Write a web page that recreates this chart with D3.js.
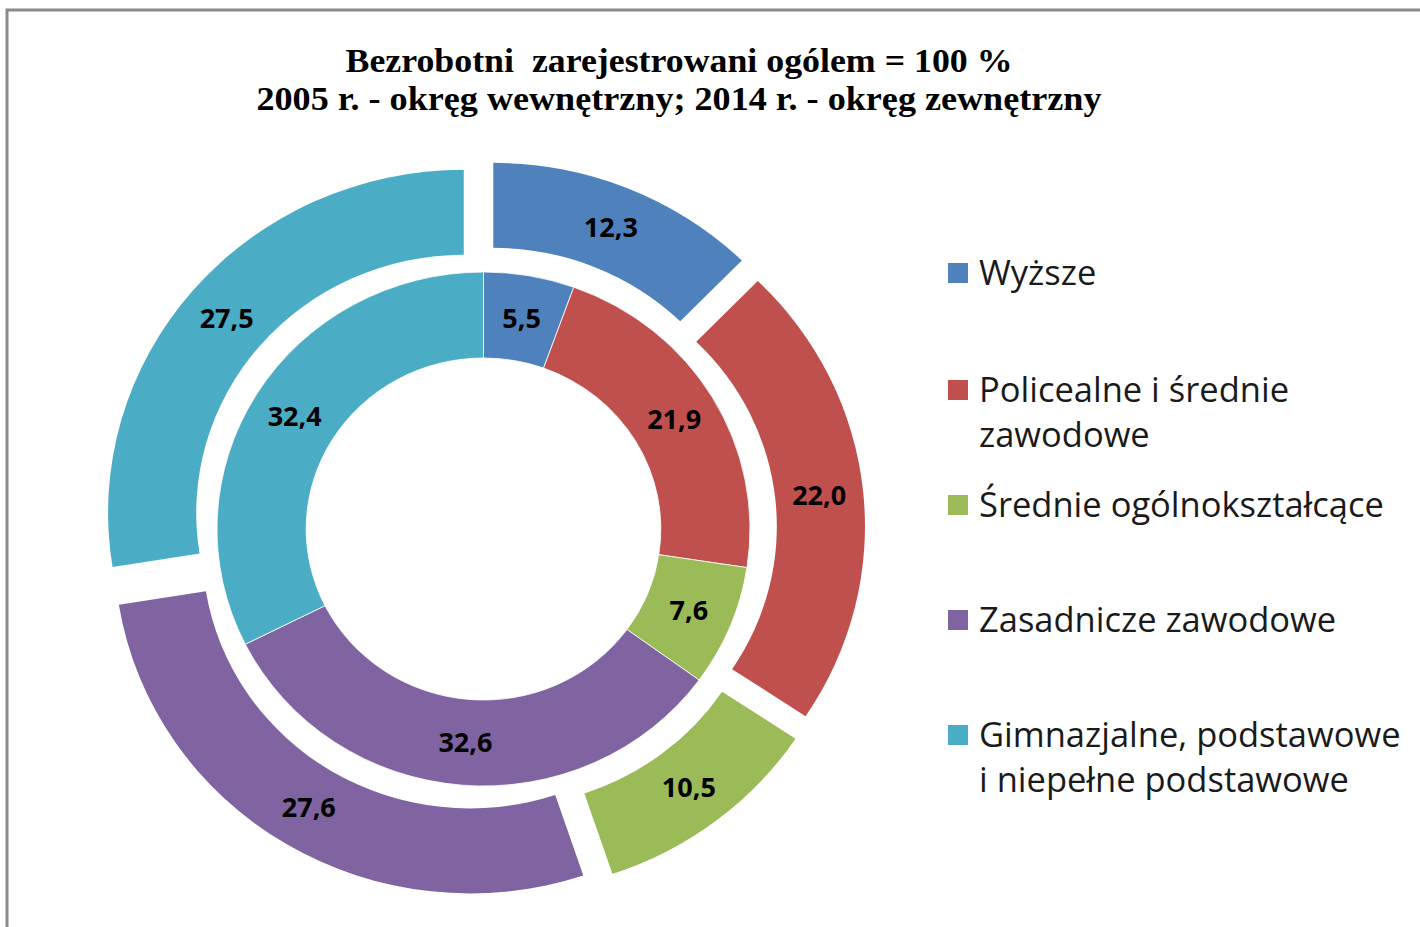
<!DOCTYPE html>
<html><head><meta charset="utf-8">
<script src="https://cdn.jsdelivr.net/npm/d3@7"></script>
<style>html,body{margin:0;padding:0;background:#fff;}svg{display:block;}</style>
</head><body>
<svg id="chart" width="1420" height="927"></svg>
<script>
const categories = ["Wyższe","Policealne i średnie zawodowe","Średnie ogólnokształcące","Zasadnicze zawodowe","Gimnazjalne, podstawowe i niepełne podstawowe"];
const legendLines = [["Wyższe"],["Policealne i średnie","zawodowe"],["Średnie ogólnokształcące"],["Zasadnicze zawodowe"],["Gimnazjalne, podstawowe","i niepełne podstawowe"]];
const values2005 = [5.5, 21.9, 7.6, 32.6, 32.4];
const values2014 = [12.3, 22.0, 10.5, 27.6, 27.5];
const colors = ["#4F81BD","#C0504D","#9BBB59","#8064A2","#4BACC6"];
const titleLines = ["Bezrobotni  zarejestrowani ogólem = 100 %","2005 r. - okręg wewnętrzny; 2014 r. - okręg zewnętrzny"];
const titleWidths = [667, 845];

const svg = d3.select("#chart");
const W = 1420, H = 927;
svg.append("rect").attr("width",W).attr("height",H).attr("fill","#fff");
// frame
svg.append("path").attr("d","M7,927 V10 H1420").attr("fill","none").attr("stroke","#8a8a8a").attr("stroke-width",3);

// title
const title = svg.append("g");
titleLines.forEach((t,i)=>{
  title.append("text").attr("x",679).attr("y",72+i*38).attr("text-anchor","middle")
    .attr("font-family","'Liberation Serif','Times New Roman',serif").attr("font-weight","bold")
    .attr("font-size",33).attr("fill","#000").style("white-space","pre")
    .attr("textLength",titleWidths[i]).attr("lengthAdjust","spacingAndGlyphs").text(t);
});

const cx = 483.5, cy = 529, sx = 1.037;
const explode = 25;
const pie = d3.pie().sort(null).value(d=>d);
const innerArc = d3.arc().innerRadius(171).outerRadius(257);
const outerArc = d3.arc().innerRadius(258).outerRadius(343);

const g = svg.append("g").attr("transform",`translate(${cx},${cy})`);
const shapes = g.append("g").attr("transform",`scale(${sx},1)`);

const inner = pie(values2005);
const outer = pie(values2014);

shapes.selectAll("path.inner").data(inner).enter().append("path")
  .attr("class","inner").attr("d",innerArc).attr("fill",(d,i)=>colors[i])
  .attr("stroke","#fff").attr("stroke-width",0.8);

function offs(d, r){ const a=(d.startAngle+d.endAngle)/2; return [Math.sin(a)*r, -Math.cos(a)*r]; }

shapes.selectAll("path.outer").data(outer).enter().append("path")
  .attr("class","outer").attr("d",outerArc).attr("fill",(d,i)=>colors[i])
  .attr("transform",d=>{const o=offs(d,explode);return `translate(${o[0]},${o[1]})`;});

const fmt = v => v.toFixed(1).replace(".",",");
const labelFont = "'Open Sans','Noto Sans',sans-serif";
inner.forEach(d=>{
  const o = offs(d,214);
  g.append("text").attr("x",o[0]*sx).attr("y",o[1]).attr("dy","0.36em").attr("text-anchor","middle")
   .attr("font-family",labelFont).attr("font-weight","bold").attr("font-size",27).attr("fill","#000").text(fmt(d.data));
});
outer.forEach(d=>{
  const o = offs(d,300.5+explode);
  g.append("text").attr("x",o[0]*sx).attr("y",o[1]).attr("dy","0.36em").attr("text-anchor","middle")
   .attr("font-family",labelFont).attr("font-weight","bold").attr("font-size",27).attr("fill","#000").text(fmt(d.data));
});

// legend
const legendY = [273, 390, 505, 620, 735];
const leg = svg.append("g");
const legTexts = [];
legendLines.forEach((lines,i)=>{
  leg.append("rect").attr("x",948).attr("y",legendY[i]-10).attr("width",20).attr("height",20).attr("fill",colors[i]);
  lines.forEach((t,j)=>{
    legTexts.push(leg.append("text").attr("x",979).attr("y",legendY[i]+j*45).attr("dy","0.35em")
      .attr("font-family","'Open Sans','Noto Sans',sans-serif").attr("font-size",30).attr("fill","#1a1a1a").text(t));
  });
});
// fit legend font size so the widest reference line matches
const ref = legTexts[3].node().getComputedTextLength();
const fs = 30 * 405 / ref;
legTexts.forEach(t=>t.attr("font-size", fs));
</script>
</body></html>
